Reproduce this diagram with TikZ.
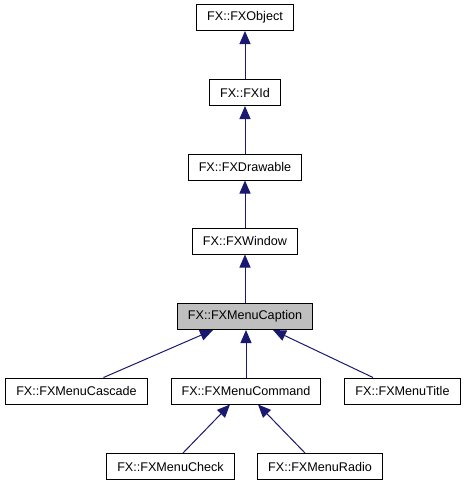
\documentclass[tikz,border=0pt]{standalone}
\usepackage{fontspec}
\setmainfont{Liberation Sans}
\usetikzlibrary{arrows.meta}
\definecolor{edgeblue}{HTML}{191970}
\definecolor{capgray}{HTML}{BFBFBF}
\tikzset{
  cls/.style={draw=black, line width=1pt, fill=white, inner xsep=10.5pt, inner ysep=0pt,
    minimum height=26pt, font=\fontsize{12.6}{14}\selectfont, anchor=center},
  inh/.style={draw=edgeblue, line width=1pt, -{Triangle[length=13pt,width=11pt]}, edgeblue}
}
\begin{document}
\begin{tikzpicture}[x=1pt,y=1pt]
\useasboundingbox (0,0) rectangle (464,-485);
\node[cls] (obj) at (245,-17.5) {FX::FXObject};
\node[cls] (id) at (245,-92.5) {FX::FXId};
\node[cls] (draw) at (245,-167) {FX::FXDrawable};
\node[cls] (win) at (245,-241) {FX::FXWindow};
\node[cls, fill=capgray] (cap) at (245,-316.5) {FX::FXMenuCaption};
\node[cls] (casc) at (76.5,-391) {FX::FXMenuCascade};
\node[cls] (cmd) at (246,-391) {FX::FXMenuCommand};
\node[cls] (title) at (402.5,-391) {FX::FXMenuTitle};
\node[cls] (check) at (170.5,-466.5) {FX::FXMenuCheck};
\node[cls] (radio) at (320,-466.5) {FX::FXMenuRadio};
\draw[inh] (id.north) -- (obj.south);
\draw[inh] (draw.north) -- (id.south);
\draw[inh] (win.north) -- (draw.south);
\draw[inh] (cap.north) -- (win.south);
\draw[inh] ([xshift=27pt]casc.north) -- ([xshift=-32pt]cap.south);
\draw[inh] (cmd.north) -- (cap.south -| cmd.north);
\draw[inh] ([xshift=-29.5pt]title.north) -- ([xshift=28pt]cap.south);
\draw[inh] ([xshift=12.5pt]check.north) -- ([xshift=-16pt]cmd.south);
\draw[inh] ([xshift=-15pt]radio.north) -- ([xshift=12pt]cmd.south);
\end{tikzpicture}
\end{document}
